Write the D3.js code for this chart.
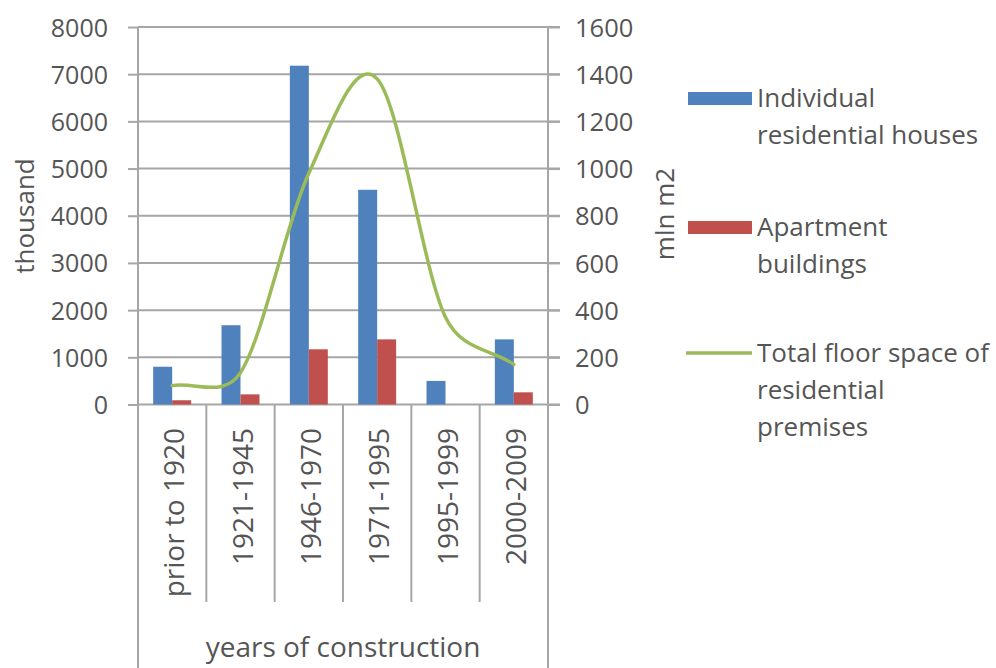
<!DOCTYPE html>
<html>
<head>
<meta charset="utf-8">
<script src="https://cdn.jsdelivr.net/npm/d3@7"></script>
<style>
  html, body { margin: 0; padding: 0; background: #fff; }
  svg { display: block; }
  text { font-family: "Open Sans", "Noto Sans", sans-serif; fill: #555; }
</style>
</head>
<body>
<svg id="chart" width="996" height="668"></svg>
<script>
// Dwellings by period of construction
const categories = ["prior to 1920", "1921-1945", "1946-1970", "1971-1995", "1995-1999", "2000-2009"];
const individualHouses = [800, 1680, 7180, 4550, 500, 1380];   // thousand
const apartmentBuildings = [90, 215, 1170, 1380, 0, 258];      // thousand
const totalFloorSpace = [80, 135, 980, 1380, 370, 170];        // mln m2
const leftTicks = [0, 1000, 2000, 3000, 4000, 5000, 6000, 7000, 8000];
const rightTicks = [0, 200, 400, 600, 800, 1000, 1200, 1400, 1600];
const seriesNames = ["Individual residential houses", "Apartment buildings"];
const legendLabels = [
  ["Individual", "residential houses"],
  ["Apartment", "buildings"],
  ["Total floor space of", "residential", "premises"]
];
const colors = ["#4F81BD", "#C0504D", "#9BBB59"];

const svg = d3.select("#chart");
const plot = { left: 138, right: 548, top: 27, bottom: 404.5 };
const gridColor = "#a6a6a6";

const x0 = d3.scaleBand().domain(categories).range([plot.left, plot.right]).paddingInner(0).paddingOuter(0);
const x1 = d3.scaleBand().domain(seriesNames).range([0, x0.bandwidth()]).paddingInner(0).paddingOuter(0.8);
const yL = d3.scaleLinear().domain([0, 8000]).range([plot.bottom, plot.top]);
const yR = d3.scaleLinear().domain([0, 1600]).range([plot.bottom, plot.top]);

// horizontal gridlines
svg.append("g").selectAll("line").data(leftTicks).join("line")
  .attr("x1", plot.left).attr("x2", 560)
  .attr("y1", d => yL(d)).attr("y2", d => yL(d))
  .attr("stroke", gridColor).attr("stroke-width", 2);

// left value axis
const axL = svg.append("g").attr("transform", `translate(${plot.left},0)`)
  .call(d3.axisLeft(yL).tickValues(leftTicks).tickFormat(d3.format("d"))
    .tickSizeInner(10).tickSizeOuter(0).tickPadding(20));
axL.select(".domain").remove();
axL.selectAll(".tick line").attr("stroke", gridColor).attr("stroke-width", 2);
axL.selectAll(".tick text").style("font-size", "25px").attr("fill", "#555").attr("dy", "0.36em");

// right value axis
const axR = svg.append("g").attr("transform", `translate(${plot.right},0)`)
  .call(d3.axisRight(yR).tickValues(rightTicks).tickFormat(d3.format("d"))
    .tickSizeInner(12).tickSizeOuter(0).tickPadding(15));
axR.select(".domain").remove();
axR.selectAll(".tick line").attr("stroke", gridColor).attr("stroke-width", 2);
axR.selectAll(".tick text").style("font-size", "25.5px").attr("fill", "#555").attr("dy", "0.36em");

// vertical axis lines, running down through the category area
[plot.left, plot.right].forEach(x => {
  svg.append("line").attr("x1", x).attr("x2", x).attr("y1", plot.top).attr("y2", 668)
    .attr("stroke", gridColor).attr("stroke-width", 2);
});
// category separators
svg.append("g").selectAll("line").data(categories.slice(1)).join("line")
  .attr("x1", d => x0(d)).attr("x2", d => x0(d))
  .attr("y1", plot.bottom).attr("y2", 602)
  .attr("stroke", gridColor).attr("stroke-width", 2);

// bars
const barData = categories.map((c, i) => ({ c, vals: [individualHouses[i], apartmentBuildings[i]] }));
const groups = svg.append("g").selectAll("g").data(barData).join("g")
  .attr("transform", d => `translate(${x0(d.c)},0)`);
groups.selectAll("rect").data(d => d.vals.map((v, k) => ({ k, v }))).join("rect")
  .attr("x", d => x1(seriesNames[d.k]))
  .attr("width", x1.bandwidth())
  .attr("y", d => yL(d.v))
  .attr("height", d => yL(0) - yL(d.v))
  .attr("fill", d => colors[d.k]);

// smoothed floor-space line on the right axis:
// Bezier segments whose tangents follow the neighbouring points,
// with each control arm capped relative to its segment length
function smoothPath(pts, cap) {
  const p = d3.path();
  const n = pts.length;
  const tan = pts.map((pt, i) => {
    const a = pts[Math.max(0, i - 1)], b = pts[Math.min(n - 1, i + 1)];
    const k = (i === 0 || i === n - 1) ? 2 : 1;
    return [(b[0] - a[0]) * k, (b[1] - a[1]) * k];
  });
  const arm = (t, segLen) => {
    let s = 1 / 6;
    const len = Math.hypot(t[0], t[1]) * s;
    if (len > segLen * cap) s *= (segLen * cap) / len;
    return [t[0] * s, t[1] * s];
  };
  p.moveTo(pts[0][0], pts[0][1]);
  for (let i = 0; i < n - 1; i++) {
    const a = pts[i], b = pts[i + 1];
    const seg = Math.hypot(b[0] - a[0], b[1] - a[1]);
    const c1 = arm(tan[i], seg), c2 = arm(tan[i + 1], seg);
    p.bezierCurveTo(a[0] + c1[0], a[1] + c1[1], b[0] - c2[0], b[1] - c2[1], b[0], b[1]);
  }
  return p.toString();
}
const linePts = totalFloorSpace.map((v, i) => [x0(categories[i]) + x0.bandwidth() / 2, yR(v)]);
svg.append("path").attr("d", smoothPath(linePts, 0.45)).attr("fill", "none")
  .attr("stroke", colors[2]).attr("stroke-width", 3.5).attr("stroke-linecap", "round");

// category labels (rotated)
svg.append("g").selectAll("text").data(categories).join("text")
  .attr("transform", d => `translate(${x0(d) + x0.bandwidth() / 2 + 2},428) rotate(-90)`)
  .attr("text-anchor", "end").attr("dy", "0.36em")
  .style("font-size", "28px").text(d => d);

// axis titles
svg.append("text").attr("transform", "translate(25,216) rotate(-90)")
  .attr("text-anchor", "middle").attr("dy", "0.36em").style("font-size", "26px").text("thousand");
svg.append("text").attr("transform", "translate(665,214) rotate(-90)")
  .attr("text-anchor", "middle").attr("dy", "0.36em").style("font-size", "26px").text("mln m2");
svg.append("text").attr("x", (plot.left + plot.right) / 2).attr("y", 647)
  .attr("text-anchor", "middle").attr("dy", "0.36em").style("font-size", "28px").text("years of construction");

// legend
const legendY = [98, 227, 353];
const leg = svg.append("g");
legendLabels.forEach((lines, i) => {
  if (i < 2) {
    leg.append("rect").attr("x", 688).attr("y", legendY[i] - 6).attr("width", 64).attr("height", 13).attr("fill", colors[i]);
  } else {
    leg.append("line").attr("x1", 686).attr("x2", 752).attr("y1", legendY[i]).attr("y2", legendY[i])
      .attr("stroke", colors[i]).attr("stroke-width", 3.5);
  }
  leg.append("g").selectAll("text").data(lines).join("text")
    .attr("x", 757).attr("y", (d, j) => legendY[i] + j * 37)
    .attr("dy", "0.36em").style("font-size", "26px").text(d => d);
});
</script>
</body>
</html>
